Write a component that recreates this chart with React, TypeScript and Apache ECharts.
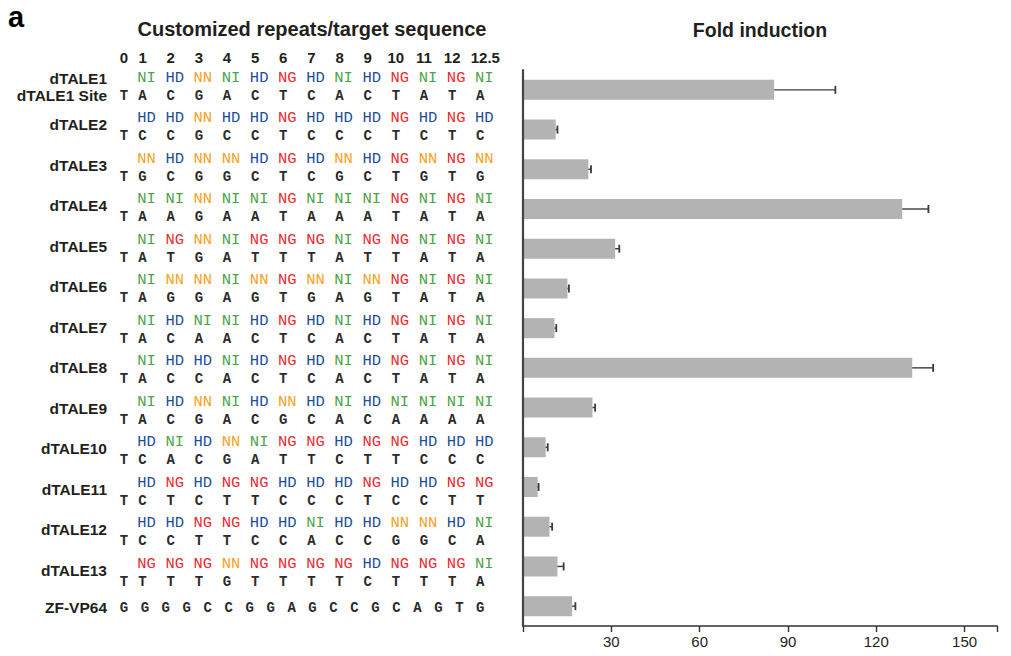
import React, { useEffect, useRef } from "react";
import * as echarts from "echarts";

// ---- data ----
const rowNames = [
  "dTALE1", "dTALE2", "dTALE3", "dTALE4", "dTALE5", "dTALE6", "dTALE7",
  "dTALE8", "dTALE9", "dTALE10", "dTALE11", "dTALE12", "dTALE13", "ZF-VP64",
];
const rvds = [
  "NI HD NN NI HD NG HD NI HD NG NI NG NI",
  "HD HD NN HD HD NG HD HD HD NG HD NG HD",
  "NN HD NN NN HD NG HD NN HD NG NN NG NN",
  "NI NI NN NI NI NG NI NI NI NG NI NG NI",
  "NI NG NN NI NG NG NG NI NG NG NI NG NI",
  "NI NN NN NI NN NG NN NI NN NG NI NG NI",
  "NI HD NI NI HD NG HD NI HD NG NI NG NI",
  "NI HD HD NI HD NG HD NI HD NG NI NG NI",
  "NI HD NN NI HD NN HD NI HD NI NI NI NI",
  "HD NI HD NN NI NG NG HD NG NG HD HD HD",
  "HD NG HD NG NG HD HD HD NG HD HD NG NG",
  "HD HD NG NG HD HD NI HD HD NN NN HD NI",
  "NG NG NG NN NG NG NG NG HD NG NG NG NI",
];
const sites = [
  "TACGACTCACTATA",
  "TCCGCCTCCCTCTC",
  "TGCGGCTCGCTGTG",
  "TAAGAATAAATATA",
  "TATGATTTATTATA",
  "TAGGAGTGAGTATA",
  "TACAACTCACTATA",
  "TACCACTCACTATA",
  "TACGACGCACAAAA",
  "TCACGATTCTTCCC",
  "TCTCTTCCCTCCTT",
  "TCCTTCCACCGGCA",
  "TTTTGTTTTCTTTA",
];
const zfSite = "GGGGCCGGAGCCGCAGTG";
const headerLabels = ["0", "1", "2", "3", "4", "5", "6", "7", "8", "9", "10", "11", "12", "12.5"];
const foldValues = [85.3, 11.1, 22.2, 128.8, 31.3, 15.1, 10.7, 132.2, 23.6, 7.7, 5.0, 9.0, 11.7, 16.7];
const foldErrors = [20.8, 0.6, 0.9, 8.9, 1.4, 0.5, 0.6, 7.1, 0.9, 0.7, 0.3, 0.9, 2.1, 1.1];
const xTicks = { min: 0, max: 161, interval: 30 };

const rvdColors: Record<string, string> = {
  NI: "#4aa544",
  HD: "#1d4e9a",
  NN: "#f8a21c",
  NG: "#ee2a2f",
};

const TEXT = "#231f20";
const COL0 = 0.336; // x position of column "0"

type Item = { x: number; row: number; text: string; kind: "rvd" | "nuc" | "zf" | "num" };

function buildItems(): Item[] {
  const items: Item[] = [];
  headerLabels.forEach((t, j) => {
    items.push({ x: j === 0 ? COL0 : j, row: 0, text: t, kind: "num" });
  });
  rvds.forEach((r, i) => {
    r.split(" ").forEach((t, j) => items.push({ x: j + 1, row: i, text: t, kind: "rvd" }));
  });
  sites.forEach((s, i) => {
    s.split("").forEach((t, j) => items.push({ x: j === 0 ? COL0 : j, row: i, text: t, kind: "nuc" }));
  });
  const zfRow = rowNames.length - 1;
  const n = zfSite.length;
  zfSite.split("").forEach((t, k) => {
    items.push({ x: COL0 + (k * (13 - COL0)) / (n - 1), row: zfRow, text: t, kind: "zf" });
  });
  return items;
}

export default function App() {
  const ref = useRef<HTMLDivElement>(null);
  useEffect(() => {
    document.body.style.margin = "0";
    if (!ref.current) return;
    const chart = echarts.init(ref.current, undefined, { renderer: "svg" });
    const items = buildItems();
    const sans = "Liberation Sans, Arial";

    const option: any = {
      animation: false,
      backgroundColor: "#ffffff",
      graphic: [
        {
          type: "text",
          x: 8,
          y: 17,
          style: { text: "a", fill: "#000", fontSize: 29, fontWeight: "bold", fontFamily: sans, verticalAlign: "middle", align: "left" },
        },
        {
          type: "text",
          x: 312,
          y: 29,
          style: { text: "Customized repeats/target sequence", fill: TEXT, fontSize: 20, fontWeight: "bold", fontFamily: sans, verticalAlign: "middle", align: "center" },
        },
        {
          type: "text",
          x: 760,
          y: 30,
          style: { text: "Fold induction", fill: TEXT, fontSize: 19.5, fontWeight: "bold", fontFamily: sans, verticalAlign: "middle", align: "center" },
        },
      ],
      grid: [
        { left: 523, top: 70, width: 474, height: 556 },
        { left: 113, top: 66.4, width: 387, height: 567 },
      ],
      xAxis: [
        {
          type: "value",
          gridIndex: 0,
          min: xTicks.min,
          max: xTicks.max,
          interval: xTicks.interval,
          splitLine: { show: false },
          axisLine: { show: true, lineStyle: { color: "#333", width: 1.6 } },
          axisTick: { show: true, length: 6, lineStyle: { color: "#333", width: 1.4 } },
          axisLabel: {
            margin: 8,
            fontSize: 15,
            color: TEXT,
            fontFamily: sans,
            formatter: (v: number) => (v === 0 || v % 30 !== 0 ? "" : String(v)),
          },
        },
        {
          type: "value",
          gridIndex: 1,
          min: -0.05,
          max: 13.7,
          show: false,
        },
      ],
      yAxis: [
        {
          type: "category",
          gridIndex: 0,
          data: rowNames,
          inverse: true,
          z: 5,
          axisLine: { show: true, lineStyle: { color: "#444", width: 2.2 } },
          axisTick: { show: false },
          axisLabel: { show: false },
        },
        {
          type: "category",
          gridIndex: 1,
          data: rowNames,
          inverse: true,
          axisLine: { show: false },
          axisTick: { show: false },
          axisLabel: {
            margin: 6,
            formatter: (v: string, i: number) => {
              if (i === 0) return `{f|${v}}\n{f|${v} Site}`;
              if (i === rowNames.length - 1) return `{z|${v}}`;
              return `{n|${v}}`;
            },
            rich: {
              f: { fontSize: 15.5, fontWeight: "bold", color: TEXT, fontFamily: sans, lineHeight: 17, align: "right" },
              n: { fontSize: 15.5, fontWeight: "bold", color: TEXT, fontFamily: sans, padding: [0, 0, 5, 0] },
              z: { fontSize: 15.5, fontWeight: "bold", color: TEXT, fontFamily: sans, padding: [0, 0, 11, 0] },
            },
          },
        },
      ],
      series: [
        {
          type: "bar",
          xAxisIndex: 0,
          yAxisIndex: 0,
          data: foldValues,
          barWidth: 20,
          itemStyle: { color: "#b3b3b3" },
          silent: true,
        },
        {
          type: "custom",
          xAxisIndex: 0,
          yAxisIndex: 0,
          silent: true,
          encode: { x: [0, 1], y: 2 },
          data: foldValues.map((v, i) => [v, v + foldErrors[i], i]),
          renderItem: (params: any, api: any) => {
            const lo = api.coord([api.value(0), api.value(2)]);
            const hi = api.coord([api.value(1), api.value(2)]);
            return {
              type: "group",
              children: [
                { type: "line", shape: { x1: lo[0], y1: lo[1], x2: hi[0], y2: hi[1] }, style: { stroke: "#3a3a3a", lineWidth: 1.4 } },
                { type: "line", shape: { x1: hi[0], y1: hi[1] - 4, x2: hi[0], y2: hi[1] + 4 }, style: { stroke: "#3a3a3a", lineWidth: 1.8 } },
              ],
            };
          },
          z: 3,
        },
        {
          type: "custom",
          xAxisIndex: 1,
          yAxisIndex: 1,
          silent: true,
          encode: { x: 0, y: 1 },
          data: items.map((it) => [it.x, it.row]),
          renderItem: (params: any, api: any) => {
            const it = items[params.dataIndex];
            const p = api.coord([it.x, it.row]);
            let x = p[0];
            let y = p[1];
            let style: any;
            if (it.kind === "rvd") {
              x += 4;
              y -= 8.9;
              style = { fill: rvdColors[it.text] || TEXT, fontSize: 15.5, fontFamily: "Liberation Mono, Courier New, monospace", fontWeight: "normal" };
            } else if (it.kind === "nuc") {
              y += 8.9;
              style = { fill: "#2b2b2b", fontSize: 14, fontFamily: "Liberation Mono, Courier New, monospace", fontWeight: "bold" };
            } else if (it.kind === "zf") {
              y -= 5.6;
              style = { fill: "#2b2b2b", fontSize: 14, fontFamily: "Liberation Mono, Courier New, monospace", fontWeight: "bold" };
            } else {
              y -= 28.7;
              if (it.text === "12.5") x += 5;
              style = { fill: TEXT, fontSize: 15, fontFamily: sans, fontWeight: "bold" };
            }
            return {
              type: "text",
              x,
              y,
              style: { ...style, text: it.text, align: "center", verticalAlign: "middle" },
            };
          },
        },
      ],
    };
    chart.setOption(option);
    return () => chart.dispose();
  }, []);
  return <div ref={ref} style={{ width: 1011, height: 656 }} />;
}
